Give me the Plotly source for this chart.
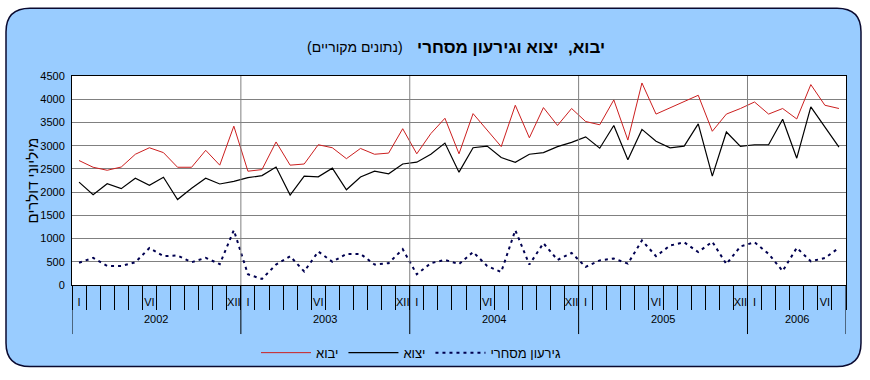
import plotly.graph_objects as go

# ---------------- data ----------------
years = [2002, 2003, 2004, 2005, 2006]
months_in_year = [12, 12, 12, 12, 7]
month_labels = {1: "I", 6: "VI", 12: "XII"}

imports = [2680, 2535, 2470, 2540, 2815, 2955, 2850, 2535, 2535, 2900, 2580, 3420,
           2450, 2485, 3080, 2580, 2605, 3020, 2955, 2720, 2940, 2815, 2840, 3365,
           2825, 3260, 3590, 2825, 3690, 3330, 2980, 3870, 3170, 3820, 3435, 3800,
           3520, 3450, 3985, 3120, 4350, 3680, 3820, 3950, 4085, 3310, 3680, 3800,
           3940, 3680, 3800, 3575, 4315, 3870, 3800]
exports = [2215, 1945, 2180, 2075, 2300, 2145, 2320, 1840, 2085, 2300, 2175, 2230,
           2310, 2355, 2540, 1935, 2345, 2330, 2515, 2050, 2325, 2450, 2395, 2605,
           2645, 2815, 3055, 2430, 2955, 2990, 2745, 2640, 2815, 2850, 2980, 3070,
           3190, 2945, 3435, 2695, 3350, 3095, 2955, 2990, 3470, 2345, 3295, 2985,
           3020, 3020, 3570, 2730, 3835, 3395, 2970]
deficit = [480, 585, 410, 410, 490, 795, 620, 635, 490, 585, 450, 1180,
           230, 130, 440, 620, 290, 720, 500, 670, 670, 440, 470, 770,
           230, 470, 540, 450, 710, 410, 280, 1180, 440, 900, 540, 690,
           390, 530, 570, 460, 960, 620, 850, 920, 710, 930, 450, 830,
           920, 670, 300, 800, 510, 580, 800]

y_ticks = [0, 500, 1000, 1500, 2000, 2500, 3000, 3500, 4000, 4500]

names = ["יבוא", "יצוא", "גירעון מסחרי"]
title_main = "יבוא,  יצוא וגירעון מסחרי"
title_sub = "(נתונים מקוריים)"
y_title = "מיליוני דולרים"

# ---------------- derived ----------------
n = len(imports)
x = list(range(n))
month_num = [m for cnt in months_in_year for m in range(1, cnt + 1)]
tickvals = [i for i, m in enumerate(month_num) if m in month_labels]
ticktext = [month_labels[month_num[i]] for i in tickvals]
bounds = [-0.5]
for cnt in months_in_year:
    bounds.append(bounds[-1] + cnt)
year_centers = [(bounds[k] + bounds[k + 1]) / 2 for k in range(len(years))]

FONT = "Arial, 'Liberation Sans', sans-serif"

# figure pixel geometry
W, H = 870, 380
L, R, T, B = 72, 846, 76, 289


def px(xp):
    return (xp - L) / (R - L)


def py(yp):
    return (B - yp) / (B - T)


fig = go.Figure()
fig.add_trace(go.Scatter(x=x, y=imports, mode="lines", name=names[0],
                         line=dict(color="#CC1F1F", width=1)))
fig.add_trace(go.Scatter(x=x, y=exports, mode="lines", name=names[1],
                         line=dict(color="#000000", width=1.2)))
fig.add_trace(go.Scatter(x=x, y=deficit, mode="lines", name=names[2],
                         line=dict(color="#000050", width=2, dash="3px,4px")))

shapes = []
# outer rounded panel
l, t, r_, b = 6, 7, 861, 372
rad = 24
pts = dict(
    a=(px(l + rad), py(t)), b=(px(r_ - rad), py(t)), c=(px(r_), py(t)), d=(px(r_), py(t + rad)),
    e=(px(r_), py(b - rad)), f=(px(r_), py(b)), g=(px(r_ - rad), py(b)),
    h=(px(l + rad), py(b)), i=(px(l), py(b)), j=(px(l), py(b - rad)),
    k=(px(l), py(t + rad)), m=(px(l), py(t)))


def f2(p):
    return f"{p[0]:.5f},{p[1]:.5f}"


path = (f"M{f2(pts['a'])} L{f2(pts['b'])} Q{f2(pts['c'])} {f2(pts['d'])} "
        f"L{f2(pts['e'])} Q{f2(pts['f'])} {f2(pts['g'])} L{f2(pts['h'])} "
        f"Q{f2(pts['i'])} {f2(pts['j'])} L{f2(pts['k'])} Q{f2(pts['m'])} {f2(pts['a'])} Z")
shapes.append(dict(type="path", path=path, xref="paper", yref="paper",
                   fillcolor="#99CCFF", line=dict(color="#0A0A30", width=1.5), layer="below"))
shapes.append(dict(type="rect", xref="paper", yref="paper", x0=0, x1=1, y0=0, y1=1,
                   fillcolor="white", line=dict(width=0), layer="below"))
# year dividers: grey inside plot, black below axis
for k, bx in enumerate(bounds):
    if 0 < k < len(bounds) - 1:
        shapes.append(dict(type="line", xref="x", yref="y", x0=bx, x1=bx, y0=0, y1=y_ticks[-1],
                           line=dict(color="#808080", width=1)))
    shapes.append(dict(type="line", xref="x", yref="paper", x0=bx, x1=bx, y0=0, y1=py(339),
                       line=dict(color="#000000", width=1)))

annotations = []
for yr, cx in zip(years, year_centers):
    annotations.append(dict(x=cx, y=py(332), xref="x", yref="paper", text=str(yr),
                            showarrow=False, font=dict(size=11, color="black", family=FONT)))
annotations.append(dict(x=px(607), y=py(35), xref="paper", yref="paper", xanchor="right",
                        text=f"<b>{title_main}</b>", showarrow=False,
                        font=dict(size=17, color="black", family=FONT)))
annotations.append(dict(x=px(405), y=py(36), xref="paper", yref="paper", xanchor="right",
                        text=title_sub, showarrow=False,
                        font=dict(size=14, color="black", family=FONT)))
annotations.append(dict(x=px(22), y=py(183), xref="paper", yref="paper", textangle=-90,
                        text=y_title, showarrow=False,
                        font=dict(size=15, color="black", family=FONT)))

fig.update_layout(
    width=W, height=H,
    margin=dict(l=L, r=W - R, t=T, b=H - B, pad=0),
    paper_bgcolor="white", plot_bgcolor="white",
    font=dict(family=FONT, size=11, color="black"),
    showlegend=True,
    legend=dict(orientation="h", x=px(411), y=py(358), xanchor="center", yanchor="middle",
                bgcolor="rgba(0,0,0,0)", font=dict(size=13, family=FONT),
                itemwidth=50),
    shapes=shapes, annotations=annotations,
    xaxis=dict(range=[bounds[0], bounds[-1]], tickmode="array", tickvals=tickvals,
               ticktext=ticktext, ticks="outside", ticklen=7, tickcolor="rgba(0,0,0,0)",
               showgrid=False, zeroline=False, showline=True, mirror=True,
               linecolor="#000000", linewidth=1,
               tickfont=dict(size=11, family=FONT),
               minor=dict(tickmode="linear", tick0=bounds[0], dtick=1, ticks="outside",
                          ticklen=24, tickcolor="#000000", tickwidth=1, showgrid=False)),
    yaxis=dict(range=[0, y_ticks[-1]], tickmode="array", tickvals=y_ticks,
               ticks="outside", ticklen=4, tickcolor="rgba(0,0,0,0)",
               showgrid=True, gridcolor="#808080", gridwidth=1, zeroline=False,
               showline=True, mirror=True, linecolor="#000000", linewidth=1,
               tickfont=dict(size=11, family=FONT)),
)

fig.write_html("out.html", config={"displayModeBar": False},
               post_script="document.body.style.margin='0';")
